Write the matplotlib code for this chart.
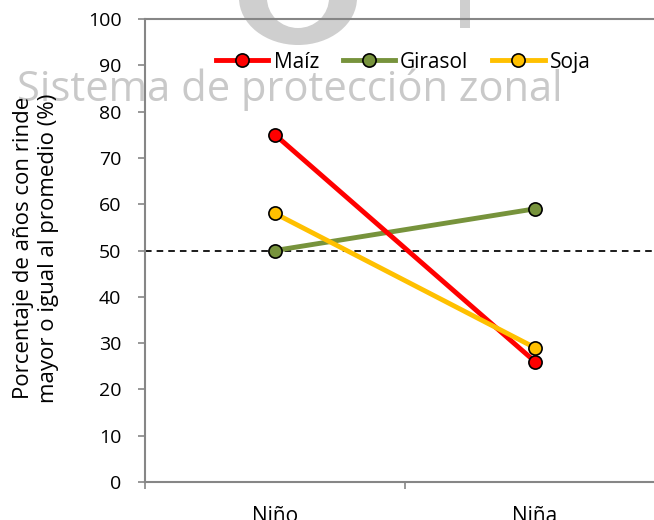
import matplotlib
matplotlib.use('Agg')

import matplotlib.pyplot as plt
from matplotlib.patches import Ellipse, Rectangle

plt.rcParams['font.family'] = ['Open Sans', 'DejaVu Sans']

fases = ['Niño', 'Niña']
maiz = [75, 26]
girasol = [50, 59]
soja = [58, 29]
promedio = 50

W, H = 654, 520
fig = plt.figure(figsize=(W / 100, H / 100), dpi=100)

# watermark behind the chart, drawn in pixel coordinates
bg = fig.add_axes([0, 0, 1, 1], zorder=0)
bg.set_xlim(0, W)
bg.set_ylim(H, 0)
bg.axis('off')
wm = '#cfcfcf'
bg.add_patch(Ellipse((298, -2), 118, 94, color=wm, lw=0))
bg.add_patch(Ellipse((298, -2), 62, 60, color='white', lw=0))
bg.add_patch(Rectangle((460, 0), 10, 28, color=wm, lw=0))
bg.text(17, 101, 'Sistema de protección zonal', fontsize=30, color='#c9c9c9',
        ha='left', va='baseline')

ax = fig.add_axes([145 / W, 1 - 482 / H, 520 / W, 463 / H], zorder=1)
ax.patch.set_alpha(0)

x = range(len(fases))
ax.axhline(promedio, color='black', lw=1.25, ls=(0, (3.8, 2.9)), zorder=1)
ax.plot(x, girasol, color='#77933C', lw=3.5, marker='o', ms=9.5, mfc='#77933C',
        mec='black', mew=1.2, label='Girasol', zorder=2)
ax.plot(x, maiz, color='#FF0000', lw=3.5, marker='o', ms=9.5, mfc='#FF0000',
        mec='black', mew=1.2, label='Maíz', zorder=3)
ax.plot(x, soja, color='#FFC000', lw=3.5, marker='o', ms=9.5, mfc='#FFC000',
        mec='black', mew=1.2, label='Soja', zorder=4)

ax.set_xlim(-0.5, 1.5)
ax.set_ylim(0, 100)
ax.set_yticks(range(0, 101, 10))
ax.set_xticks([-0.5, 0.5, 1.5])
ax.set_xticklabels([])
ax.set_xticks([0, 1], minor=True)
ax.set_xticklabels(fases, minor=True, fontsize=15)
ax.tick_params(axis='x', which='minor', length=0, pad=17)
ax.tick_params(axis='x', which='major', length=5, width=1.2, color='#868686', direction='out')
ax.tick_params(axis='y', length=5, width=1.2, color='#868686', labelsize=14, pad=12)
ax.spines['right'].set_visible(False)
for s in ['left', 'bottom', 'top']:
    ax.spines[s].set_color('#868686')
    ax.spines[s].set_linewidth(1.5)
ax.spines['bottom'].set_zorder(5)

fig.text(36 / W, 1 - 248 / H, 'Porcentaje de años con rinde\nmayor o igual al promedio (%)',
         rotation=90, ha='center', va='center', fontsize=16, linespacing=1.28)

h, l = ax.get_legend_handles_labels()
order = [1, 0, 2]
leg = ax.legend([h[i] for i in order], [l[i] for i in order], loc='center',
                bbox_to_anchor=(0.497, 1 - (62 - 19) / 463), ncol=3, frameon=False,
                fontsize=15, handlelength=2.5, handletextpad=0.25, columnspacing=1.15,
                borderpad=0, borderaxespad=0)

fig.savefig('out.png', dpi=100)
